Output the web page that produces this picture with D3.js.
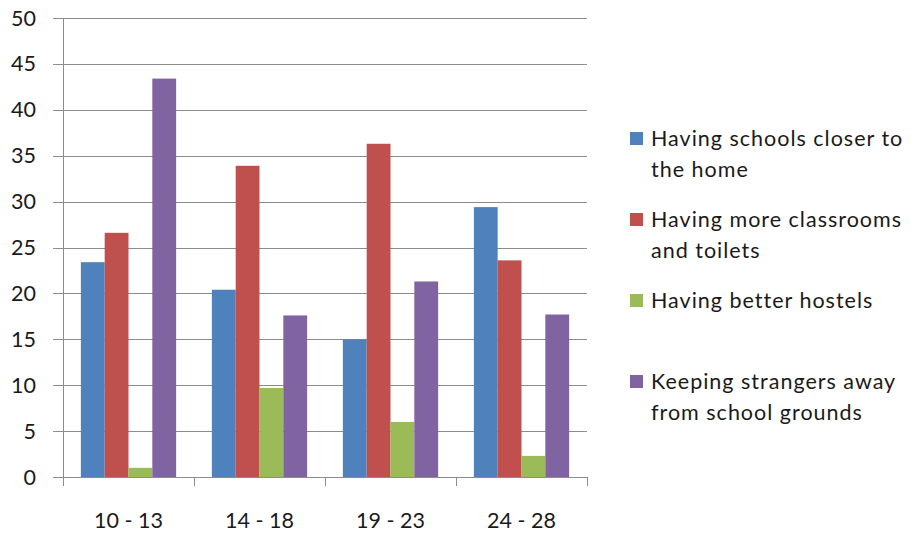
<!DOCTYPE html>
<html><head><meta charset="utf-8">
<script src="https://cdn.jsdelivr.net/npm/d3@7"></script>
<style>body{margin:0;background:#fff}svg{display:block}</style>
</head><body><svg id="c" width="916" height="533"></svg>
<script>
const categories = ["10 - 13", "14 - 18", "19 - 23", "24 - 28"];
const seriesNames = [
  ["Having schools closer to", "the home"],
  ["Having more classrooms", "and toilets"],
  ["Having better hostels"],
  ["Keeping strangers away", "from school grounds"]
];
const schoolsCloser = [23.4, 20.4, 15.0, 29.4];
const moreClassrooms = [26.6, 33.9, 36.3, 23.6];
const betterHostels = [1.0, 9.7, 6.0, 2.3];
const keepStrangers = [43.4, 17.6, 21.3, 17.7];
const yTicks = [0, 5, 10, 15, 20, 25, 30, 35, 40, 45, 50];
const colors = ["#4F81BD", "#C0504D", "#9BBB59", "#8064A2"];

(function () {
const series = [schoolsCloser, moreClassrooms, betterHostels, keepStrangers];
const svg = d3.select("#c");
const font = "Lato, 'Open Sans', sans-serif";
const fs = 21.5;
const pLeft = 63, pRight = 587, pTop = 18, pBottom = 477;

const x = d3.scaleBand().domain(categories).range([pLeft, pRight]).paddingInner(0).paddingOuter(0);
const y = d3.scaleLinear().domain([0, 50]).range([pBottom, pTop]);

svg.append("g").selectAll("line").data(yTicks).join("line")
  .attr("x1", pLeft - 10).attr("x2", pRight)
  .attr("y1", d => Math.round(y(d)) + 0.5).attr("y2", d => Math.round(y(d)) + 0.5)
  .attr("stroke", "#8c8c8c").attr("stroke-width", 1);

svg.append("g").selectAll("text").data(yTicks).join("text")
  .attr("x", 36).attr("y", d => y(d)).attr("dy", "0.35em")
  .attr("text-anchor", "end").attr("font-family", font).attr("font-size", fs).attr("fill", "#1a1a1a")
  .text(d => d);

const bw = x.bandwidth() / 5.5;
series.forEach((vals, si) => {
  svg.append("g").selectAll("rect").data(vals).join("rect")
    .attr("x", (d, i) => x(categories[i]) + bw * 0.75 + si * bw)
    .attr("width", bw)
    .attr("y", d => y(d))
    .attr("height", d => pBottom - y(d))
    .attr("fill", colors[si]);
});

svg.append("line").attr("x1", pLeft + 0.5).attr("x2", pLeft + 0.5).attr("y1", pTop).attr("y2", pBottom)
  .attr("stroke", "#8c8c8c");
svg.append("line").attr("x1", pLeft).attr("x2", pRight).attr("y1", pBottom + 0.5).attr("y2", pBottom + 0.5)
  .attr("stroke", "#8c8c8c");
const xTickPos = categories.map(c => x(c)).concat([pRight]);
svg.append("g").selectAll("line").data(xTickPos).join("line")
  .attr("x1", d => Math.round(d) + 0.5).attr("x2", d => Math.round(d) + 0.5)
  .attr("y1", pBottom).attr("y2", pBottom + 9).attr("stroke", "#8c8c8c");

svg.append("g").selectAll("text").data(categories).join("text")
  .attr("x", d => x(d) + x.bandwidth() / 2).attr("y", 520).attr("dy", "0.35em")
  .attr("text-anchor", "middle").attr("font-family", font).attr("font-size", fs).attr("fill", "#1a1a1a")
  .text(d => d);

const legY = [138, 219, 300, 381];
const lg = svg.append("g");
seriesNames.forEach((lines, i) => {
  lg.append("rect").attr("x", 630).attr("y", legY[i] - 6).attr("width", 13).attr("height", 13).attr("fill", colors[i]);
  lines.forEach((t, j) => {
    lg.append("text").attr("x", 651).attr("y", legY[i] + j * 31).attr("dy", "0.35em")
      .attr("font-family", font).attr("font-size", fs).attr("letter-spacing", 1).attr("fill", "#1a1a1a").text(t);
  });
});
})();
</script></body></html>
